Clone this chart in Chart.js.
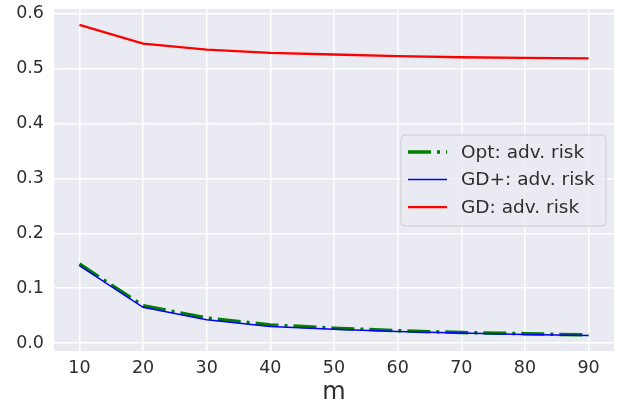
<!DOCTYPE html>
<html>
<head>
<meta charset="utf-8">
<script src="https://cdn.jsdelivr.net/npm/chart.js@4/dist/chart.umd.min.js"></script>
<style>
  html, body { margin: 0; padding: 0; background: #fff; }
  #wrap { width: 621px; height: 407px; }
</style>
</head>
<body>
<div id="wrap"><canvas id="chart"></canvas></div>
<script>
const mValues = [10, 20, 30, 40, 50, 60, 70, 80, 90];
const optRisk = [0.144, 0.068, 0.0455, 0.033, 0.027, 0.0225, 0.019, 0.017, 0.0146];
const gdPlusRisk = [0.141, 0.065, 0.0425, 0.030, 0.025, 0.021, 0.018, 0.0155, 0.0138];
const gdRisk = [0.580, 0.546, 0.535, 0.529, 0.526, 0.523, 0.521, 0.520, 0.519];
const xTicks = [10, 20, 30, 40, 50, 60, 70, 80, 90];
const yTicks = [0, 0.1, 0.2, 0.3, 0.4, 0.5, 0.6];

const FONT = 'DejaVu Sans';
const TEXT = '#2e2e2e';

function points(ys) {
	return mValues.map((x, i) => ({ x, y: ys[i] }));
}

// seaborn-like grey plot background
const bgPlugin = {
	id: 'bg',
	beforeDraw(chart) {
		const { ctx, chartArea: a } = chart;
		ctx.save();
		ctx.fillStyle = '#eaeaf2';
		ctx.fillRect(a.left, a.top, a.right - a.left, a.bottom - a.top);
		ctx.restore();
	}
};

// matplotlib-style legend with line samples
const legendPlugin = {
	id: 'mplLegend',
	afterDraw(chart) {
		const { ctx } = chart;
		const x0 = 401, y0 = 135, w = 205, h = 91;
		ctx.save();
		ctx.beginPath();
		ctx.roundRect(x0, y0, w, h, 4);
		ctx.fillStyle = 'rgba(234,234,242,0.8)';
		ctx.fill();
		ctx.strokeStyle = '#cccccc';
		ctx.lineWidth = 1;
		ctx.stroke();
		chart.data.datasets.forEach((ds, i) => {
			const y = 152 + i * 27.6;
			ctx.beginPath();
			ctx.strokeStyle = ds.borderColor;
			ctx.lineWidth = ds.borderWidth;
			ctx.setLineDash(ds.borderDash || []);
			ctx.moveTo(408, y);
			ctx.lineTo(447, y);
			ctx.stroke();
			ctx.setLineDash([]);
			ctx.fillStyle = TEXT;
			ctx.font = '18.5px "' + FONT + '"';
			ctx.textBaseline = 'middle';
			ctx.fillText(ds.label, 461, y + 1);
		});
		ctx.restore();
	}
};

new Chart(document.getElementById('chart').getContext('2d'), {
	type: 'line',
	data: {
		datasets: [
			{
				label: 'Opt: adv. risk',
				data: points(optRisk),
				borderColor: '#008000',
				borderWidth: 3.5,
				borderDash: [23, 6, 3, 6],
				order: 3,
			},
			{
				label: 'GD+: adv. risk',
				data: points(gdPlusRisk),
				borderColor: '#0000ff',
				borderWidth: 1.5,
				order: 2,
			},
			{
				label: 'GD: adv. risk',
				data: points(gdRisk),
				borderColor: '#ff0000',
				borderWidth: 2.3,
				order: 1,
			},
		]
	},
	options: {
		responsive: true,
		maintainAspectRatio: false,
		animation: false,
		elements: {
			point: { radius: 0 },
			line: { tension: 0, borderCapStyle: 'butt' },
		},
		layout: { padding: { top: 9, right: 7, left: 0, bottom: 0 } },
		scales: {
			x: {
				type: 'linear',
				min: 6,
				max: 94,
				afterBuildTicks: s => { s.ticks = xTicks.map(v => ({ value: v })); },
				afterFit: s => { s.height = 56; s.paddingLeft = 0; s.paddingRight = 0; },
				border: { display: false },
				grid: { color: '#ffffff', lineWidth: 1.5, drawTicks: false },
				ticks: {
					color: TEXT,
					padding: 7,
					font: { family: FONT, size: 17.5 },
					callback: v => String(v),
				},
				title: {
					display: true,
					text: 'm',
					color: TEXT,
					padding: { top: 1, bottom: 0 },
					font: { family: FONT, size: 24 },
				},
			},
			y: {
				type: 'linear',
				min: -0.0146,
				max: 0.609,
				afterBuildTicks: s => { s.ticks = yTicks.map(v => ({ value: v })); },
				afterFit: s => { s.width = 54; s.paddingTop = 0; s.paddingBottom = 0; },
				border: { display: false },
				grid: { color: '#ffffff', lineWidth: 1.5, drawTicks: false },
				ticks: {
					color: TEXT,
					padding: 10,
					font: { family: FONT, size: 17.5 },
					callback: v => v.toFixed(1),
				},
			},
		},
		plugins: {
			legend: { display: false },
			tooltip: { enabled: false },
		},
	},
	plugins: [bgPlugin, legendPlugin],
});
</script>
</body>
</html>
